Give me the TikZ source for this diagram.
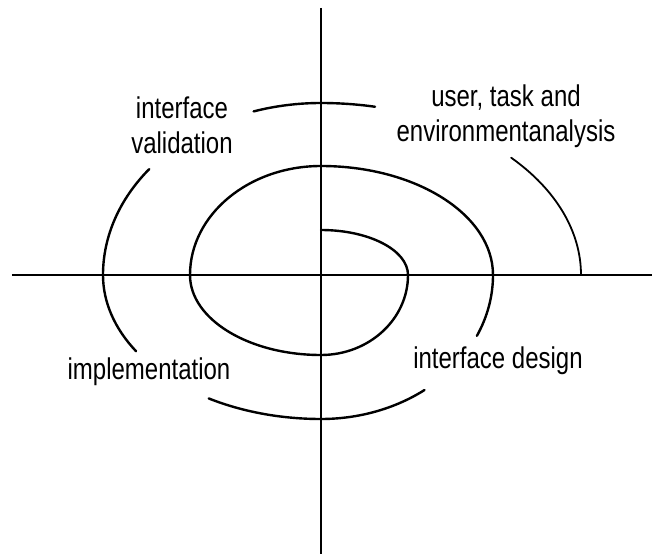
\documentclass[tikz,border=0pt]{standalone}
\usepackage{fontspec}
\setmainfont{Liberation Sans}[FakeStretch=0.8]
\usetikzlibrary{calc}

\begin{document}
\begin{tikzpicture}[x=1pt,y=1pt]
\tikzset{axis/.style={line width=2.6pt}}
\tikzset{turn/.style={line width=2.4pt, line cap=round}}
\tikzset{outerturn/.style={line width=1.8pt, line cap=round}}
\tikzset{phase/.style={inner sep=0pt, align=center, font=\fontsize{30}{35}\selectfont}}
\useasboundingbox (-321,-279) rectangle (331,275);
\coordinate (o) at (0,0);
% axes
\coordinate (top) at (0,267);
\coordinate (bottom) at (0,-279);
\coordinate (left) at (-309,0);
\coordinate (right) at (331,0);
\draw[axis] (top) -- (bottom);
\draw[axis] (left) -- (right);
% spiral, inner part in one go
\draw[turn] (0,45)
  arc[start angle=90, end angle=0, x radius=87, y radius=45]
  arc[start angle=0, end angle=-90, x radius=87, y radius=80]
  arc[start angle=-90, end angle=-180, x radius=131, y radius=80]
  arc[start angle=180, end angle=90, x radius=131, y radius=109]
  arc[start angle=90, end angle=0, x radius=172, y radius=109]
  arc[start angle=0, end angle=-25, x radius=172, y radius=144];
% outer pieces, broken by the labels
\draw[turn] ($(o)+(-53:172 and 144)$)
  arc[start angle=-53, end angle=-90, x radius=172, y radius=144]
  arc[start angle=-90, end angle=-121, x radius=218, y radius=144];
\draw[turn] ($(o)+(-148:218 and 144)$)
  arc[start angle=-148, end angle=-180, x radius=218, y radius=144]
  arc[start angle=180, end angle=142, x radius=218, y radius=172];
\draw[turn] ($(o)+(108:218 and 172)$)
  arc[start angle=108, end angle=90, x radius=218, y radius=172]
  arc[start angle=90, end angle=78, x radius=260, y radius=172];
\draw[outerturn] ($(o)+(43:260 and 172)$)
  arc[start angle=43, end angle=0, x radius=260, y radius=172];
% labels
\node[phase] (validation) at (-139,150) {interface\\validation};
\node[phase] (analysis) at (185,159) {user, task and\\environmentanalysis};
\node[phase] (implementation) at (-172,-97) {implementation};
\node[phase] (design) at (177,-86) {interface design};
\end{tikzpicture}
\end{document}
